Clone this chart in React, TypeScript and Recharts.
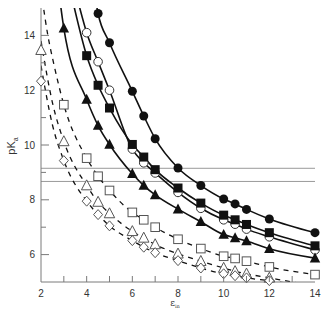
import React from 'react';
import { ComposedChart, Line, Scatter, XAxis, YAxis, ReferenceLine } from 'recharts';

// ---- data ----
const filledCircles = [
  { x: 4.5, y: 14.8 }, { x: 5, y: 13.73 }, { x: 6, y: 11.96 }, { x: 6.5, y: 11.06 }, { x: 7, y: 10.23 },
  { x: 8, y: 9.16 }, { x: 9, y: 8.52 }, { x: 10, y: 8.03 }, { x: 10.5, y: 7.85 }, { x: 11, y: 7.65 },
  { x: 12, y: 7.3 }, { x: 14, y: 6.8 },
];
const openCircles = [
  { x: 4, y: 14.1 }, { x: 4.5, y: 13.04 }, { x: 5, y: 12.0 }, { x: 6, y: 9.85 }, { x: 6.5, y: 9.35 },
  { x: 7, y: 8.98 }, { x: 8, y: 8.27 }, { x: 9, y: 7.69 }, { x: 10, y: 7.27 }, { x: 10.5, y: 7.11 },
  { x: 11, y: 6.93 }, { x: 12, y: 6.65 }, { x: 14, y: 6.17 },
];
const filledSquares = [
  { x: 4, y: 13.26 }, { x: 4.5, y: 12.18 }, { x: 5, y: 11.35 }, { x: 6, y: 10.02 }, { x: 6.5, y: 9.56 },
  { x: 7, y: 9.1 }, { x: 8, y: 8.43 }, { x: 9, y: 7.88 }, { x: 10, y: 7.44 }, { x: 10.5, y: 7.27 },
  { x: 11, y: 7.1 }, { x: 12, y: 6.8 }, { x: 14, y: 6.32 },
];
const filledTriangles = [
  { x: 3, y: 14.26 }, { x: 4, y: 11.66 }, { x: 4.5, y: 10.71 }, { x: 5, y: 10.02 }, { x: 6, y: 8.95 },
  { x: 6.5, y: 8.52 }, { x: 7, y: 8.18 }, { x: 8, y: 7.66 }, { x: 9, y: 7.2 }, { x: 10, y: 6.73 },
  { x: 10.5, y: 6.61 }, { x: 11, y: 6.5 }, { x: 12, y: 6.21 }, { x: 14, y: 5.87 },
];
const openSquares = [
  { x: 3, y: 11.47 }, { x: 4, y: 9.52 }, { x: 4.5, y: 8.86 }, { x: 5, y: 8.34 }, { x: 6, y: 7.54 },
  { x: 6.5, y: 7.27 }, { x: 7, y: 7.0 }, { x: 8, y: 6.56 }, { x: 9, y: 6.22 }, { x: 10, y: 5.94 },
  { x: 10.5, y: 5.86 }, { x: 11, y: 5.76 }, { x: 12, y: 5.55 }, { x: 14, y: 5.27 },
];
const openTriangles = [
  { x: 2, y: 13.46 }, { x: 3, y: 10.13 }, { x: 4, y: 8.52 }, { x: 4.5, y: 7.92 }, { x: 5, y: 7.5 },
  { x: 6, y: 6.85 }, { x: 6.5, y: 6.61 }, { x: 7, y: 6.37 }, { x: 8, y: 6.03 }, { x: 9, y: 5.76 },
  { x: 10, y: 5.51 }, { x: 10.5, y: 5.39 }, { x: 11, y: 5.3 }, { x: 12, y: 5.15 },
];
const openDiamonds = [
  { x: 2, y: 12.33 }, { x: 3, y: 9.43 }, { x: 4, y: 7.95 }, { x: 4.5, y: 7.46 }, { x: 5, y: 7.05 },
  { x: 6, y: 6.51 }, { x: 6.5, y: 6.27 }, { x: 7, y: 6.07 }, { x: 8, y: 5.78 }, { x: 9, y: 5.51 },
  { x: 10, y: 5.3 }, { x: 10.5, y: 5.23 }, { x: 11, y: 5.15 }, { x: 12, y: 5.05 },
];

// fitted curves (where they leave the frame)
const circleCurve = [{ x: 4.42, y: 15.15 }, ...filledCircles];
const openCircleCurve = [{ x: 3.65, y: 15.15 }, ...openCircles];
const squareCurve = [{ x: 3.42, y: 15.15 }, ...filledSquares];
const triangleCurve = [{ x: 2.85, y: 15.15 }, ...filledTriangles];
const openSquareCurve = [{ x: 2.06, y: 15.3 }, { x: 2.3, y: 14.0 }, { x: 2.55, y: 13.0 }, ...openSquares];
const openTriangleCurve = [{ x: 2, y: 13.8 }, { x: 2.5, y: 11.55 }, ...openTriangles.slice(1), { x: 14, y: 4.85 }];
const openDiamondCurve = [{ x: 2, y: 12.9 }, { x: 2.5, y: 10.74 }, ...openDiamonds.slice(1), { x: 14, y: 4.8 }];

const refLevels = [9.15, 8.67];
const xTicks = [2, 3, 4, 5, 6, 7, 8, 9, 10, 11, 12, 13, 14];
const yTicks = [5, 6, 7, 8, 9, 10, 11, 12, 13, 14, 15];

const FRAME = '#7a7a7a';
const FONT = '"Liberation Sans", Arial, sans-serif';
const INK = '#111';

const BottomTick = (p: any) => {
  const { x, y, payload } = p;
  const v = payload.value;
  const major = v % 2 === 0;
  return (
    <g>
      {v !== 2 && v !== 14 && <line x1={x} x2={x} y1={y} y2={y - 6} stroke={FRAME} />}
      {major && (
        <text x={x} y={y + 15} textAnchor="middle" fontSize={10} fill="#333" fontFamily={FONT}>{v}</text>
      )}
    </g>
  );
};
const TopTick = (p: any) => {
  const { x, y, payload } = p;
  const v = payload.value;
  if (v === 2 || v === 14) return <g />;
  const len = v % 2 === 0 ? 8 : 5;
  return <line x1={x} x2={x} y1={y} y2={y + len} stroke={FRAME} />;
};
const LeftTick = (p: any) => {
  const { x, y, payload } = p;
  const v = payload.value;
  const major = v % 2 === 0;
  if (v === 5 || v === 15) return <g />;
  return (
    <g>
      <line x1={x} x2={x + (major ? 8 : 5)} y1={y} y2={y} stroke={FRAME} />
      {major && (
        <text x={x - 6} y={y + 3.5} textAnchor="end" fontSize={10} fill="#333" fontFamily={FONT}>{v}</text>
      )}
    </g>
  );
};
const RightTick = (p: any) => {
  const { x, y, payload } = p;
  const v = payload.value;
  if (v === 5 || v === 15) return <g />;
  const len = v % 2 === 0 ? 9 : 5;
  return <line x1={x} x2={x - len} y1={y} y2={y} stroke={FRAME} />;
};

const FilledCircle = (p: any) => <circle cx={p.cx} cy={p.cy} r={4.5} fill={INK} />;
const OpenCircle = (p: any) => <circle cx={p.cx} cy={p.cy} r={4.3} fill="#fff" stroke="#333" strokeWidth={1} />;
const FilledSquare = (p: any) => <rect x={p.cx - 4.5} y={p.cy - 4.5} width={9} height={9} fill={INK} />;
const OpenSquare = (p: any) => (
  <rect x={p.cx - 4.3} y={p.cy - 4.3} width={8.6} height={8.6} fill="#fff" stroke="#555" strokeWidth={1} />
);
const triPath = (cx: number, cy: number, s: number) =>
  `M${cx},${cy - s * 0.6} L${cx + s * 0.55},${cy + s * 0.45} L${cx - s * 0.55},${cy + s * 0.45} Z`;
const FilledTriangle = (p: any) => <path d={triPath(p.cx, p.cy, 9.5)} fill={INK} />;
const OpenTriangle = (p: any) => <path d={triPath(p.cx, p.cy, 9.5)} fill="#fff" stroke="#555" strokeWidth={1} />;
const OpenDiamond = (p: any) => (
  <path
    d={`M${p.cx},${p.cy - 5} L${p.cx + 4.5},${p.cy} L${p.cx},${p.cy + 5} L${p.cx - 4.5},${p.cy} Z`}
    fill="#fff"
    stroke="#555"
    strokeWidth={1}
  />
);

const YLabel = () => (
  <text transform="translate(15,146) rotate(-90)" textAnchor="middle" fontSize={11} fill="#333" fontFamily={FONT}>
    pK<tspan fontSize={7} dy={3}>a</tspan>
  </text>
);
const XLabel = () => (
  <text x={175} y={306} textAnchor="middle" fontSize={9} fill="#333" fontFamily={'"DejaVu Serif", serif'}>
    ε<tspan fontSize={5} dy={2}>in</tspan>
  </text>
);

export default function App() {
  const solid = { stroke: INK, strokeWidth: 1.6, dot: false, isAnimationActive: false, type: 'monotone' as const, activeDot: false };
  const dashed = { ...solid, strokeWidth: 1.3, strokeDasharray: '5 5' };
  const mk = { xAxisId: 'top', yAxisId: 'right', isAnimationActive: false, dataKey: 'y' };
  return (
    <div style={{ position: 'absolute', left: 0, top: 0, background: '#fff' }}>
      <ComposedChart width={323} height={312} margin={{ top: 8, right: 8, left: 0, bottom: 0 }}>
        <XAxis
          xAxisId={0}
          type="number"
          dataKey="x"
          domain={[2, 14]}
          ticks={xTicks}
          allowDataOverflow
          height={30}
          tickSize={0}
          tickMargin={0}
          tickLine={false}
          axisLine={{ stroke: FRAME }}
          tick={<BottomTick />}
          interval={0}
          label={{ content: () => <XLabel /> }}
        />
        <XAxis
          xAxisId="top"
          orientation="top"
          type="number"
          dataKey="x"
          domain={[2, 14]}
          ticks={xTicks}
          height={0}
          tickSize={0}
          tickMargin={0}
          tickLine={false}
          axisLine={{ stroke: FRAME }}
          tick={<TopTick />}
          interval={0}
        />
        <YAxis
          yAxisId={0}
          type="number"
          dataKey="y"
          domain={[5, 15]}
          ticks={yTicks}
          allowDataOverflow
          width={41}
          tickSize={0}
          tickMargin={0}
          tickLine={false}
          axisLine={{ stroke: FRAME }}
          tick={<LeftTick />}
          interval={0}
          label={{ content: () => <YLabel /> }}
        />
        <YAxis
          yAxisId="right"
          orientation="right"
          type="number"
          dataKey="y"
          domain={[5, 15]}
          ticks={yTicks}
          width={0}
          tickSize={0}
          tickMargin={0}
          tickLine={false}
          axisLine={{ stroke: FRAME }}
          tick={<RightTick />}
          interval={0}
        />
        {refLevels.map((v) => (
          <ReferenceLine key={v} y={v} stroke="#9a9a9a" strokeWidth={1} ifOverflow="hidden" />
        ))}

        <Line data={openSquareCurve} dataKey="y" {...dashed} />
        <Line data={openTriangleCurve} dataKey="y" {...dashed} />
        <Line data={openDiamondCurve} dataKey="y" {...dashed} />
        <Scatter data={openSquares} {...mk} shape={<OpenSquare />} />
        <Scatter data={openTriangles} {...mk} shape={<OpenTriangle />} />
        <Scatter data={openDiamonds} {...mk} shape={<OpenDiamond />} />

        <Line data={circleCurve} dataKey="y" {...solid} />
        <Line data={openCircleCurve} dataKey="y" {...solid} />
        <Line data={squareCurve} dataKey="y" {...solid} />
        <Line data={triangleCurve} dataKey="y" {...solid} />
        <Scatter data={openCircles} {...mk} shape={<OpenCircle />} />
        <Scatter data={filledSquares} {...mk} shape={<FilledSquare />} />
        <Scatter data={filledCircles} {...mk} shape={<FilledCircle />} />
        <Scatter data={filledTriangles} {...mk} shape={<FilledTriangle />} />
      </ComposedChart>
    </div>
  );
}
